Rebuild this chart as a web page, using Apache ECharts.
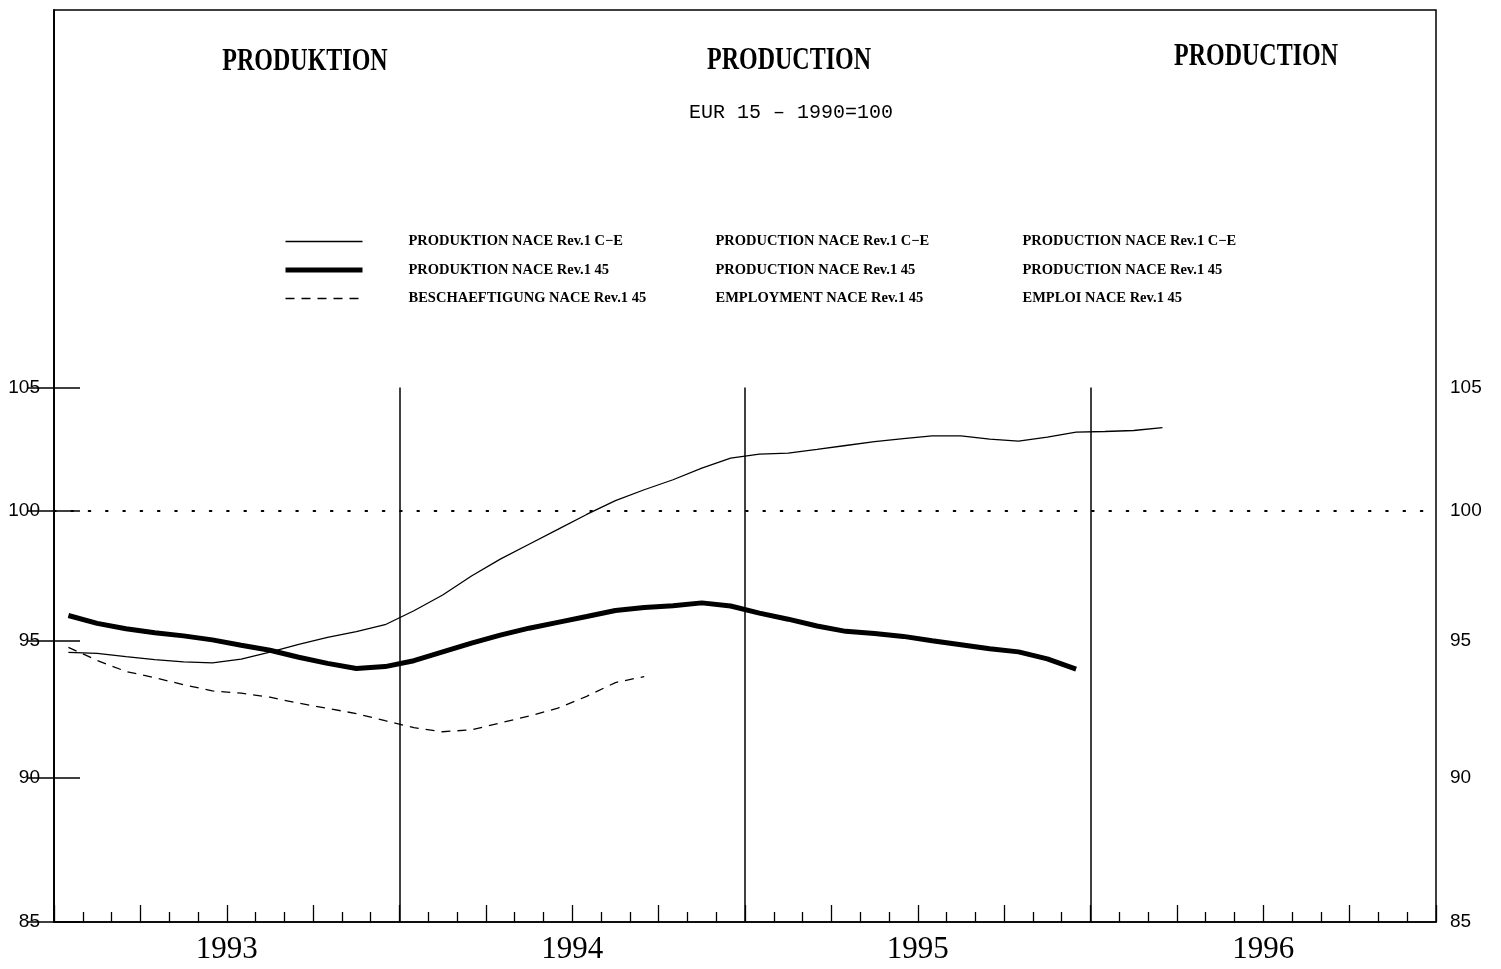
<!DOCTYPE html>
<html><head><meta charset="utf-8">
<script src="https://cdn.jsdelivr.net/npm/echarts@6/dist/echarts.min.js"></script>
<style>html,body{margin:0;padding:0;background:#fff}#c{width:1501px;height:969px}</style>
</head><body><div id="c"></div>
<script>
// ---- data ----
const months = ['1993-01','1993-02','1993-03','1993-04','1993-05','1993-06','1993-07','1993-08','1993-09','1993-10','1993-11','1993-12',
  '1994-01','1994-02','1994-03','1994-04','1994-05','1994-06','1994-07','1994-08','1994-09','1994-10','1994-11','1994-12',
  '1995-01','1995-02','1995-03','1995-04','1995-05','1995-06','1995-07','1995-08','1995-09','1995-10','1995-11','1995-12',
  '1996-01','1996-02','1996-03'];
const prodCE = [94.56,94.52,94.40,94.29,94.21,94.17,94.31,94.57,94.86,95.12,95.34,95.60,
  96.13,96.73,97.46,98.11,98.69,99.27,99.86,100.41,100.84,101.24,101.71,102.11,
  102.27,102.31,102.46,102.62,102.78,102.90,103.01,103.01,102.88,102.80,102.96,103.16,
  103.19,103.23,103.35];
const prod45 = [95.95,95.65,95.45,95.30,95.18,95.03,94.83,94.64,94.38,94.15,93.96,94.03,
  94.25,94.58,94.91,95.21,95.47,95.69,95.91,96.14,96.25,96.32,96.43,96.31,
  96.04,95.81,95.55,95.35,95.27,95.16,95.00,94.85,94.70,94.58,94.32,93.94];
const empl45 = [94.75,94.26,93.85,93.62,93.36,93.13,93.05,92.90,92.68,92.49,92.30,92.04,
  91.79,91.64,91.71,91.96,92.21,92.50,92.93,93.44,93.66];
const yTicks = [85, 90, 95, 100, 105];
const yearLabels = ['1993', '1994', '1995', '1996'];
const yearBreaks = ['1994-01', '1995-01', '1996-01'];
const legendDE = ['PRODUKTION NACE Rev.1 C\u2212E', 'PRODUKTION NACE Rev.1 45', 'BESCHAEFTIGUNG NACE Rev.1 45'];
const legendEN = ['PRODUCTION NACE Rev.1 C\u2212E', 'PRODUCTION NACE Rev.1 45', 'EMPLOYMENT NACE Rev.1 45'];
const legendFR = ['PRODUCTION NACE Rev.1 C\u2212E', 'PRODUCTION NACE Rev.1 45', 'EMPLOI NACE Rev.1 45'];
const titleDE = 'PRODUKTION', titleEN = 'PRODUCTION', titleFR = 'PRODUCTION';
const subtitle = 'EUR 15 \u2013 1990=100';

// ---- styles ----
const lineStyles = [
  {color: '#000', width: 1.3, type: 'solid'},
  {color: '#000', width: 5, type: 'solid'},
  {color: '#000', width: 1.3, type: [9, 7]}
];

// ---- helpers ----
function monthStart(s) { const p = s.split('-').map(Number); return (p[0] - 1993) * 12 + (p[1] - 1); }
function pts(arr) { return arr.map((v, i) => [monthStart(months[i]) + 0.5, v]); }

const chart = echarts.init(document.getElementById('c'), null, {renderer: 'canvas'});
const serif = '"Liberation Serif", "Times New Roman", serif';
const yAxisBase = {
  type: 'log', min: 85, max: 121.9,
  axisLine: {show: true, lineStyle: {color: '#000', width: 1.5}},
  axisTick: {show: true, inside: true, length: 26, customValues: yTicks, lineStyle: {color: '#000', width: 1.5}},
  axisLabel: {customValues: yTicks, color: '#000', fontSize: 19, fontFamily: '"Liberation Sans", Arial, sans-serif', margin: 14},
  splitLine: {show: false}, minorTick: {show: false}, minorSplitLine: {show: false}
};
const legendItemStyle = {opacity: 0, borderWidth: 0};
const option = {
  animation: false,
  backgroundColor: '#fff',
  grid: {left: 54, right: 65, top: 10, bottom: 47, show: true, borderColor: '#000', borderWidth: 1.5, containLabel: false},
  xAxis: [
    {type: 'value', min: 0, max: 48, interval: 3, position: 'bottom',
      axisLine: {show: true, onZero: false, lineStyle: {color: '#000', width: 1.5}},
      axisTick: {show: true, inside: true, length: 17, lineStyle: {color: '#000', width: 1.3}},
      minorTick: {show: true, splitNumber: 3, length: 10, lineStyle: {color: '#000', width: 1.3}},
      axisLabel: {show: false}, splitLine: {show: false}},
    {type: 'value', min: 0, max: 48, interval: 6, position: 'bottom',
      axisLine: {show: false}, axisTick: {show: false}, splitLine: {show: false},
      axisLabel: {show: true, margin: 12, color: '#000', fontSize: 31, fontFamily: serif,
        formatter: v => { const k = (v - 6) / 12; return (Number.isInteger(k) && k >= 0 && k < yearLabels.length) ? yearLabels[k] : ''; }}}
  ],
  yAxis: [
    Object.assign({}, yAxisBase, {position: 'left'}),
    Object.assign({}, yAxisBase, {position: 'right'})
  ],
  legend: {
    orient: 'vertical', left: 283, top: 234, padding: 0, itemWidth: 77, itemHeight: 14, itemGap: 13.5,
    selectedMode: false,
    data: legendDE.map((n, i) => ({name: n, itemStyle: legendItemStyle, lineStyle: Object.assign({}, lineStyles[i])})),
    itemStyle: legendItemStyle,
    formatter: name => { const i = legendDE.indexOf(name); return '{s| }{a|' + legendDE[i] + '}{b|' + legendEN[i] + '}{c|' + legendFR[i] + '}'; },
    textStyle: {color: '#000', fontFamily: serif, fontWeight: 'bold', fontSize: 14.5, lineHeight: 14,
      rich: {s: {width: 41, lineHeight: 14}, a: {width: 307, fontFamily: serif, fontWeight: 'bold', fontSize: 14.5, lineHeight: 14},
        b: {width: 307, fontFamily: serif, fontWeight: 'bold', fontSize: 14.5, lineHeight: 14}, c: {fontFamily: serif, fontWeight: 'bold', fontSize: 14.5, lineHeight: 14}}}
  },
  graphic: [
    {type: 'text', x: 305, y: 62, scaleX: 0.75, style: {text: titleDE, fontFamily: serif, fontWeight: 'bold', fontSize: 32, fill: '#000', textAlign: 'center', textVerticalAlign: 'middle'}},
    {type: 'text', x: 789, y: 61, scaleX: 0.75, style: {text: titleEN, fontFamily: serif, fontWeight: 'bold', fontSize: 32, fill: '#000', textAlign: 'center', textVerticalAlign: 'middle'}},
    {type: 'text', x: 1256, y: 57, scaleX: 0.75, style: {text: titleFR, fontFamily: serif, fontWeight: 'bold', fontSize: 32, fill: '#000', textAlign: 'center', textVerticalAlign: 'middle'}},
    {type: 'text', x: 791, y: 113, style: {text: subtitle, fontFamily: '"Liberation Mono", monospace', fontSize: 20, fill: '#000', textAlign: 'center', textVerticalAlign: 'middle'}}
  ],
  series: [
    {name: legendDE[0], type: 'line', xAxisIndex: 0, yAxisIndex: 0, data: pts(prodCE), symbol: 'none', showSymbol: false,
      lineStyle: lineStyles[0], itemStyle: {color: '#000'},
      markLine: {silent: true, symbol: 'none', label: {show: false},
        lineStyle: {color: '#000', width: 1.5, type: 'solid'},
        data: yearBreaks.map(b => [{coord: [monthStart(b), yTicks[0]]}, {coord: [monthStart(b), yTicks[yTicks.length - 1]]}])
          .concat([{yAxis: 100, lineStyle: {color: '#000', width: 1.8, type: [1.8, 15.5], cap: 'round'}}])}},
    {name: legendDE[1], type: 'line', xAxisIndex: 0, yAxisIndex: 0, data: pts(prod45), symbol: 'none', showSymbol: false,
      lineStyle: lineStyles[1], itemStyle: {color: '#000'}},
    {name: legendDE[2], type: 'line', xAxisIndex: 0, yAxisIndex: 0, data: pts(empl45), symbol: 'none', showSymbol: false,
      lineStyle: lineStyles[2], itemStyle: {color: '#000'}}
  ]
};
chart.setOption(option);
</script>
</body></html>
